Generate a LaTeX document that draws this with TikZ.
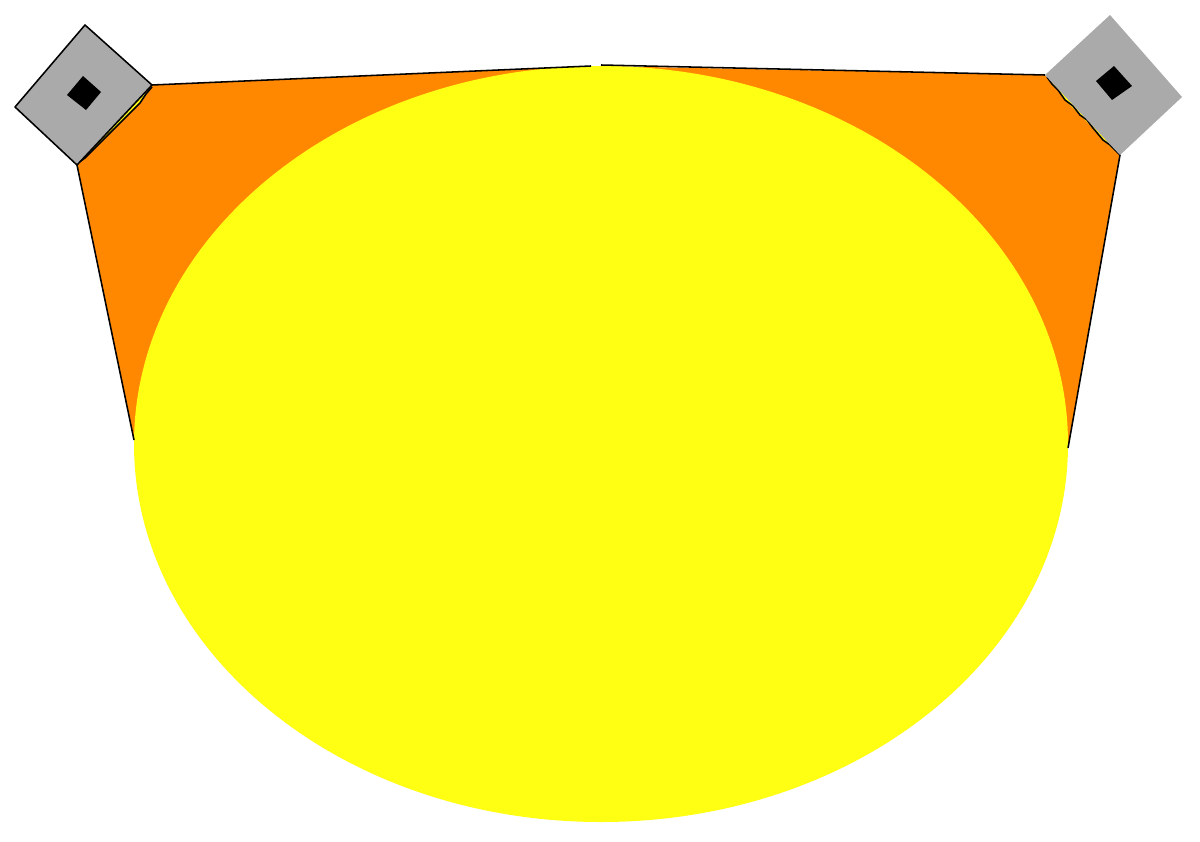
\documentclass[tikz,border=0pt]{standalone}
\usepackage{tikz}
\usetikzlibrary{backgrounds}

\definecolor{lidorange}{RGB}{255,136,0}
\definecolor{lidyellow}{RGB}{255,255,20}
\definecolor{postgray}{RGB}{170,170,170}

\begin{document}
\begin{tikzpicture}[x=0.025cm,y=-0.025cm,line join=round,line width=1.1pt]
\useasboundingbox (0,0) rectangle (1200,841);
% orange skin behind the ball
\fill[lidorange] (152,85) -- (596,66) -- (1045,75) -- (1120,155) -- (1068,448)
  -- (601,444) -- (134,440) -- (77,165) -- cycle;
% yellow slivers along the posts
\fill[lidyellow] (152,85) -- (77,165) -- (85,158) -- (120,123) -- (140,103) -- (146,94) -- cycle;
\fill[lidyellow] (1045,75) -- (1120,155) -- (1103,140) -- (1093,128) -- (1080,115) -- (1065,100) -- (1058,90) -- cycle;
% the ball
\fill[lidyellow] (601,444) ellipse [x radius=467, y radius=378];
% outlines
\draw (77,165) -- (134,440);
\draw (1120,155) -- (1068,448);
\draw (152,85) -- (591,66);
\draw (601,65) -- (1045,75);
\draw (152,87) -- (146,94) -- (140,103) -- (120,123) -- (85,158) -- (78,163);
\draw (1047,77) -- (1052,84) -- (1058,90) -- (1065,100) -- (1073,106) -- (1080,115)
  -- (1087,120) -- (1093,128) -- (1103,140) -- (1110,145) -- (1120,155);
% posts
\filldraw[fill=postgray,draw=black] (85,25) -- (152,85) -- (77,165) -- (15,107) -- cycle;
\fill[black] (83,76) -- (101,92) -- (86,110) -- (67,95) -- cycle;
\fill[postgray] (1110,15) -- (1182,97) -- (1120,155) -- (1045,75) -- cycle;
\fill[black] (1114,66) -- (1132,86) -- (1112,100) -- (1096,81) -- cycle;
\end{tikzpicture}
\end{document}
